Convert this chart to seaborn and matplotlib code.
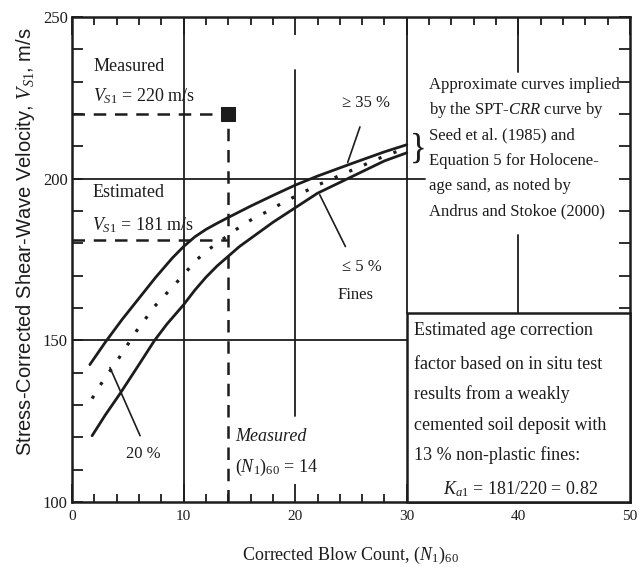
import matplotlib
matplotlib.use("Agg")
import matplotlib.pyplot as plt
import seaborn as sns
import pandas as pd
from matplotlib.ticker import MultipleLocator, FixedLocator
from matplotlib.patches import Rectangle

# ---------------- data ----------------
upper_n = [1.6, 3.0, 4.5, 6.0, 7.5, 9.0, 10.0, 11.0, 12.0, 13.0, 14.0, 16.0, 18.0, 20.0, 22.0, 25.0, 28.0, 30.0]
upper_v = [142.5, 149.5, 156.5, 163.0, 169.5, 175.5, 179.0, 182.0, 184.3, 186.2, 188.0, 191.5, 194.8, 198.0, 200.8, 204.6, 208.3, 210.5]

mid_n = [1.8, 2.5, 4.2, 5.8, 7.4, 9.4, 10.3, 11.2, 12.2, 14.0, 15.2, 16.4, 17.6, 18.6, 19.7, 22.0, 25.0, 28.0, 30.0]
mid_v = [132.0, 136.0, 144.5, 153.0, 160.5, 168.0, 171.5, 175.0, 178.0, 182.5, 185.5, 188.0, 190.0, 192.0, 194.0, 198.0, 202.5, 207.0, 209.5]

lower_n = [1.8, 3.0, 4.3, 6.0, 7.4, 8.5, 10.0, 11.0, 12.0, 13.0, 14.0, 15.0, 16.0, 18.0, 20.0, 22.0, 25.0, 28.0, 30.0]
lower_v = [120.5, 127.0, 133.5, 142.5, 150.0, 155.0, 161.0, 165.5, 169.5, 173.0, 176.0, 179.0, 181.5, 186.5, 191.0, 195.5, 200.5, 205.5, 208.0]

measured_n = [14]
measured_vs = [220]
estimated_vs = [181]

x_ticks = [0, 10, 20, 30, 40, 50]
y_ticks = [100, 150, 200, 250]

# ---------------- styling ----------------
sns.set_theme(style="ticks")
plt.rcParams['font.family'] = ['Liberation Serif', 'DejaVu Serif']
plt.rcParams['mathtext.fontset'] = 'custom'
plt.rcParams['mathtext.rm'] = 'Liberation Serif'
plt.rcParams['mathtext.it'] = 'Liberation Serif:italic'
plt.rcParams['mathtext.bf'] = 'Liberation Serif:bold'

INK = '#1c1c1c'

fig = plt.figure(figsize=(6.44, 5.74), dpi=100)
ax = fig.add_axes([0.1118, 0.1254, 0.8665, 0.845])
ax.set_xlim(0, 50)
ax.set_ylim(100, 250)

# partial grid lines
gl = dict(color=INK, lw=1.3, zorder=1)
ax.plot([10, 10], [100, 250], **gl)
ax.plot([20, 20], [126.5, 233.5], **gl)
ax.plot([30, 30], [158.6, 250], **gl)
ax.plot([40, 40], [233, 250], **gl)
ax.plot([40, 40], [158.6, 182.7], **gl)
ax.plot([0, 31.6], [200, 200], **gl)
ax.plot([0, 30], [150, 150], **gl)

# curves
sns.lineplot(x=upper_n, y=upper_v, ax=ax, color=INK, lw=2.0, sort=False, zorder=3)
sns.lineplot(x=lower_n, y=lower_v, ax=ax, color=INK, lw=2.0, sort=False, zorder=3)
sns.lineplot(x=mid_n, y=mid_v, ax=ax, color=INK, lw=2.3, sort=False, zorder=3,
             linestyle=(0, (1, 4)))

# measured / estimated guide lines
dash = dict(color=INK, lw=1.8, linestyle=(0, (5, 3.5)), zorder=3)
ax.plot([0, measured_n[0]], [measured_vs[0], measured_vs[0]], **dash)
ax.plot([0, measured_n[0]], [estimated_vs[0], estimated_vs[0]], **dash)
ax.plot([measured_n[0], measured_n[0]], [100, measured_vs[0]], **dash)
sns.scatterplot(x=measured_n, y=measured_vs, ax=ax, marker='s', s=90, color=INK,
                edgecolor=INK, zorder=4)

# pointer lines
pl = dict(color=INK, lw=1.2, zorder=3)
ax.plot([25.8, 24.7], [216, 205], **pl)
ax.plot([24.5, 22.2], [179, 195], **pl)
ax.plot([6.1, 3.4], [120.5, 141.6], **pl)

# labels on plot
fs = 13
ax.text(1.9, 234.6, 'Measured', fontsize=fs, va='center', ha='left', color=INK)
ax.text(1.9, 225.6, '$V_{S1}$ = 220 m/s', fontsize=fs, va='center', ha='left', color=INK)
ax.text(1.8, 195.7, 'Estimated', fontsize=fs, va='center', ha='left', color=INK)
ax.text(1.8, 185.5, '$V_{S1}$ = 181 m/s', fontsize=fs, va='center', ha='left', color=INK)
ax.text(26.3, 223.3, '≥ 35 %', fontsize=12, va='center', ha='center', color=INK)
ax.text(26.0, 172.7, '≤ 5 %', fontsize=12, va='center', ha='center', color=INK)
ax.text(25.4, 163.9, 'Fines', fontsize=12, va='center', ha='center', color=INK)
ax.text(6.4, 114.8, '20 %', fontsize=12, va='center', ha='center', color=INK)
ax.text(14.6, 120.2, 'Measured', fontsize=fs, va='center', ha='left', style='italic', color=INK)
ax.text(14.6, 110.8, r'$\mathit{(N_1)_{60}}$ = 14', fontsize=fs, va='center', ha='left', color=INK)

# brace and explanatory text
ax.text(31.0, 209, '}', fontsize=25, va='center', ha='center', color=INK)
approx_lines = ['Approximate curves implied',
                r'by the SPT-$\mathit{CRR}$ curve by',
                'Seed et al. (1985) and',
                'Equation 5 for Holocene-',
                'age sand, as noted by',
                'Andrus and Stokoe (2000)']
approx_y = [229.0, 221.2, 213.3, 205.5, 197.7, 189.8]
for t, yy in zip(approx_lines, approx_y):
    ax.text(32.0, yy, t, fontsize=12, va='center', ha='left', color=INK, zorder=6)

# box with age correction text
ax.add_patch(Rectangle((30, 100), 20, 58.6, facecolor='white', edgecolor=INK,
                       lw=1.8, zorder=5, clip_on=False))
box_lines = ['Estimated age correction',
             'factor based on in situ test',
             'results from a weakly',
             'cemented soil deposit with',
             '13 % non-plastic fines:']
box_y = [153.0, 142.6, 133.3, 123.6, 114.4]
for t, yy in zip(box_lines, box_y):
    ax.text(30.6, yy, t, fontsize=13, va='center', ha='left', color=INK, zorder=6)
ax.text(33.2, 104.0, '$K_{a1}$ = 181/220 = 0.82', fontsize=13, va='center', ha='left',
        color=INK, zorder=6)

# axes, ticks
for s in ax.spines.values():
    s.set_linewidth(1.8)
    s.set_color(INK)
ax.xaxis.set_major_locator(FixedLocator(x_ticks))
ax.yaxis.set_major_locator(FixedLocator(y_ticks))
ax.xaxis.set_minor_locator(MultipleLocator(2))
ax.yaxis.set_minor_locator(MultipleLocator(10))
ax.set_xticklabels([str(v) for v in x_ticks])
ax.set_yticklabels([str(v) for v in y_ticks])
ax.tick_params(axis='x', which='major', direction='in', length=13, width=1.3,
               top=True, bottom=True, labelsize=11, pad=6, colors=INK)
ax.tick_params(axis='x', which='minor', direction='in', length=6, width=1.3,
               top=True, bottom=True, colors=INK)
ax.tick_params(axis='y', which='major', direction='in', length=8, width=1.3,
               left=True, right=True, labelsize=12, pad=3, colors=INK)
ax.tick_params(axis='y', which='minor', direction='in', length=8, width=1.3,
               left=True, right=True, colors=INK)

ax.set_xlabel(r'Corrected Blow Count, $\mathit{(N_1)_{60}}$', fontsize=13, color=INK)
ax.xaxis.set_label_coords(0.5, -0.088)
ax.set_ylabel('Stress-Corrected Shear-Wave Velocity, $V_{S1}$, m/s', fontsize=14.5,
              family=['Liberation Sans', 'DejaVu Sans'], color=INK)
ax.yaxis.set_label_coords(-0.063, 0.536)

fig.savefig('out.png', dpi=100)
